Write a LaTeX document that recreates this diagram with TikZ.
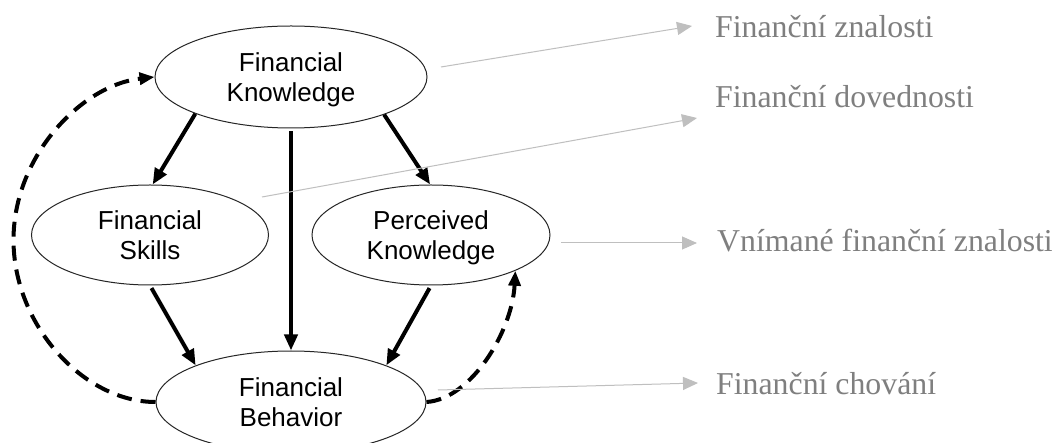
\documentclass[tikz,border=0pt]{standalone}
\usepackage{fontspec}
\setmainfont{Liberation Serif}
\newfontfamily\arialf{Liberation Sans}
\usetikzlibrary{arrows.meta,shapes.geometric}
\definecolor{lgray}{HTML}{BFBFBF}
\definecolor{tgray}{HTML}{7F7F7F}
\begin{document}
\begin{tikzpicture}[x=1pt,y=-1pt,
  ell/.style={ellipse, draw=black!85, line width=1pt, inner sep=0pt, align=center,
    font=\arialf\fontsize{26}{29.5}\selectfont},
  solidarr/.style={line width=4pt, -{Triangle[length=16pt,width=13pt]}},
  dasharr/.style={line width=4pt, dash pattern=on 15pt off 9pt, -{Triangle[length=15pt,width=12pt]}},
  grayarr/.style={draw=lgray, line width=1pt, -{Triangle[length=15pt,width=13pt,fill=lgray]}},
  lbl/.style={anchor=base west, text=tgray, inner sep=0pt, font=\fontsize{31.8}{38}\selectfont}
]
\useasboundingbox (0,0) rectangle (1055,443);
\clip (0,0) rectangle (1055,443);
\fill[white] (0,0) rectangle (1055,443);

\node[ell, minimum width=272pt, minimum height=102pt] (FK) at (291,77) {Financial\\\smash{Knowledge}};
\node[ell, minimum width=237pt, minimum height=100pt] (FS) at (150,235) {Financial\\Skills};
\node[ell, minimum width=238pt, minimum height=100pt] (PK) at (431,235) {Perceived\\\smash{Knowledge}};
\node[ell, minimum width=270pt, minimum height=102pt] (FB) at (291,402) {Financial\\Behavior};

\draw[solidarr] (FK.201) -- (FS.87);
\draw[solidarr] (FK.338) -- (PK.91);
\draw[solidarr, shorten <=3pt] (FK.south) -- (FB.north);
\draw[solidarr, shorten <=3pt] (FS.south) -- (FB.159);
\draw[solidarr, shorten <=3pt] (PK.south) -- (FB.21);

\draw[dasharr] (FB.west) .. controls +(-72,0) and +(0,85) .. ++(-142,-162)
  .. controls +(0,-85) and +(-72,8) .. (FK.west);
\draw[dasharr] (FB.east) .. controls +(45,-3) and +(-3,60) .. (PK.-23);

\coordinate (s1) at (441,67);  \coordinate (t1) at (692,26);
\coordinate (s2) at (262,197); \coordinate (t2) at (697,118);
\coordinate (s3) at (561,243); \coordinate (t3) at (697,243);
\coordinate (s4) at (438,390); \coordinate (t4) at (698,383);

\node[lbl] (L1) at (715,38) {Finanční znalosti};
\node[lbl] (L2) at (715,108) {Finanční dovednosti};
\node[lbl] (L3) at (717,252) {Vnímané finanční znalosti};
\node[lbl] (L4) at (716,395) {Finanční chování};

\draw[grayarr] (s1) -- (t1);
\draw[grayarr] (s2) -- (t2);
\draw[grayarr] (s3) -- (t3);
\draw[grayarr] (s4) -- (t4);
\end{tikzpicture}
\end{document}
